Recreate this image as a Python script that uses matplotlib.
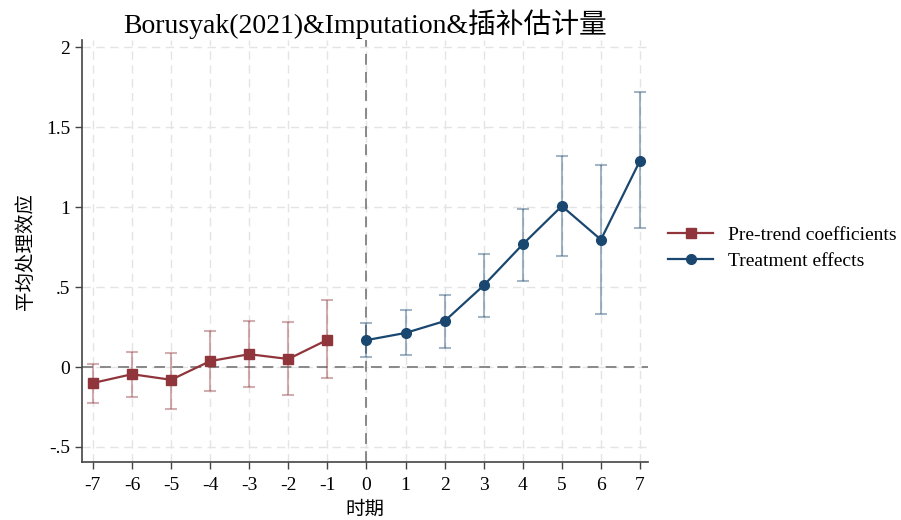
import matplotlib.pyplot as plt

plt.rcParams['font.family'] = ['Liberation Serif', 'Noto Sans CJK SC']
plt.rcParams['axes.unicode_minus'] = False

pre_x = [-7, -6, -5, -4, -3, -2, -1]
pre_y = [-0.10, -0.045, -0.08, 0.037, 0.08, 0.05, 0.17]
pre_hi = [0.02, 0.095, 0.09, 0.225, 0.285, 0.28, 0.42]
pre_lo = [-0.225, -0.185, -0.26, -0.15, -0.125, -0.175, -0.07]

post_x = [0, 1, 2, 3, 4, 5, 6, 7]
post_y = [0.168, 0.213, 0.287, 0.51, 0.767, 1.006, 0.796, 1.29]
post_hi = [0.278, 0.354, 0.45, 0.708, 0.99, 1.318, 1.262, 1.717]
post_lo = [0.062, 0.077, 0.12, 0.31, 0.54, 0.696, 0.331, 0.868]

yticks = [-0.5, 0, 0.5, 1, 1.5, 2]
ytick_labels = ['-.5', '0', '.5', '1', '1.5', '2']

red = '#90353b'
blue = '#1a476f'

fig = plt.figure(figsize=(9.01, 5.2), dpi=100)
ax = fig.add_axes([0.091, 0.1115, 0.628, 0.8115])

ax.grid(True, color='#e4e4e4', linestyle=(0, (6, 4)), linewidth=1)
ax.set_axisbelow(True)
ax.axhline(0, color='#808080', linestyle=(0, (6, 4)), linewidth=1.3, zorder=1)
ax.axvline(0, color='#808080', linestyle=(0, (6, 4)), linewidth=1.3, zorder=1)

# error bars
ax.errorbar(pre_x, pre_y,
            yerr=[[y - l for y, l in zip(pre_y, pre_lo)], [h - y for y, h in zip(pre_y, pre_hi)]],
            fmt='none', ecolor=red, alpha=0.4, elinewidth=1.5, capsize=4, capthick=1.5, zorder=2)
ax.errorbar(post_x, post_y,
            yerr=[[y - l for y, l in zip(post_y, post_lo)], [h - y for y, h in zip(post_y, post_hi)]],
            fmt='none', ecolor=blue, alpha=0.4, elinewidth=1.5, capsize=4, capthick=1.5, zorder=2)

ax.plot(pre_x, pre_y, color=red, marker='s', markersize=7, linewidth=1.6,
        label='Pre-trend coefficients', zorder=3)
ax.plot(post_x, post_y, color=blue, marker='o', markersize=7, linewidth=1.6,
        label='Treatment effects', zorder=3)

ax.set_xlim(-7.28, 7.2)
ax.set_ylim(-0.594, 2.044)
ax.set_xticks(range(-7, 8))
ax.set_yticks(yticks)
ax.set_yticklabels(ytick_labels)
ax.tick_params(axis='both', labelsize=14, color='#444444', length=5, width=1)
ax.tick_params(axis='x', pad=6)

for s in ['top', 'right']:
    ax.spines[s].set_visible(False)
for s in ['left', 'bottom']:
    ax.spines[s].set_color('#444444')
    ax.spines[s].set_linewidth(1.2)

ax.set_title('Borusyak(2021)&Imputation&插补估计量', fontsize=20, pad=5)
ax.set_xlabel('时期', fontsize=14, labelpad=5)
ax.set_ylabel('平均处理效应', fontsize=14, labelpad=8)

ax.legend(loc='center left', bbox_to_anchor=(1.005, 0.507), frameon=False,
          fontsize=14, handlelength=2.3, labelspacing=0.4, handletextpad=0.8)

fig.savefig('out.png', dpi=100)
